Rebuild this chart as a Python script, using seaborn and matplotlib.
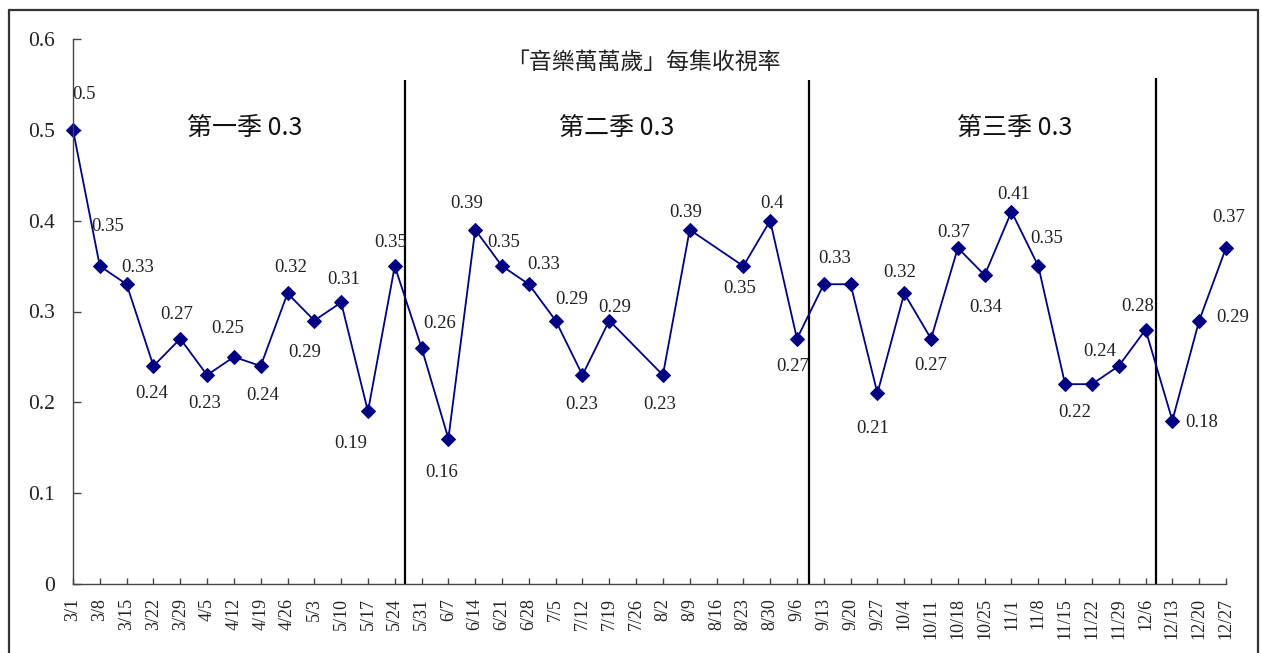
import matplotlib
matplotlib.use("Agg")
import matplotlib.pyplot as plt
from matplotlib.lines import Line2D
import seaborn as sns
import pandas as pd
import numpy as np

# ---------------- data ----------------
dates = ["3/1", "3/8", "3/15", "3/22", "3/29", "4/5", "4/12", "4/19", "4/26", "5/3",
         "5/10", "5/17", "5/24", "5/31", "6/7", "6/14", "6/21", "6/28", "7/5", "7/12",
         "7/19", "7/26", "8/2", "8/9", "8/16", "8/23", "8/30", "9/6", "9/13", "9/20",
         "9/27", "10/4", "10/11", "10/18", "10/25", "11/1", "11/8", "11/15", "11/22",
         "11/29", "12/6", "12/13", "12/20", "12/27"]
ratings = [0.5, 0.35, 0.33, 0.24, 0.27, 0.23, 0.25, 0.24, 0.32, 0.29,
           0.31, 0.19, 0.35, 0.26, 0.16, 0.39, 0.35, 0.33, 0.29, 0.23,
           0.29, np.nan, 0.23, 0.39, np.nan, 0.35, 0.4, 0.27, 0.33, 0.33,
           0.21, 0.32, 0.27, 0.37, 0.34, 0.41, 0.35, 0.22, 0.22,
           0.24, 0.28, 0.18, 0.29, 0.37]
season_names = ["第一季", "第二季", "第三季"]
season_avgs = [0.3, 0.3, 0.3]
title = "「音樂萬萬歲」每集收視率"
yticks = [0, 0.1, 0.2, 0.3, 0.4, 0.5, 0.6]

# ---------------- style (positions) ----------------
# label offsets in pixels (dx, dy-down); None = label not shown
label_offsets = [(11, -35), (8, -40), (11, -17), (-2, 27), (-4, -24), (-2, 28), (-6, -28),
                 (2, 30), (3, -26), (-10, 32), (3, -23), (-17, 32), (-4, -24), (18, -24),
                 (-7, 34), (-9, -26), (2, -24), (15, -20), (16, -21), (-1, 29), (5, -13),
                 None, (-3, 29), (-4, -17), None, (-4, 22), (2, -17), (-4, 28), (11, -26),
                 None, (-5, 35), (-5, -21), (0, 27), (-4, -15), (1, 32), (2, -17), (8, -28),
                 (10, 28), None, (-19, -14), (-8, -23), (29, 2), (34, -3), (3, -30)]
separators_x = [12.4, 27.45, 40.4]
separators_top = [0.555, 0.555, 0.557]
season_pos = [(6.41, 0.502), (20.29, 0.502), (35.13, 0.502)]

sns.set_theme(style="white")
plt.rcParams["font.family"] = ["Liberation Serif", "DejaVu Sans"]

W, H, DPI = 1261, 653, 100
fig = plt.figure(figsize=(W / DPI, H / DPI), dpi=DPI)
fig.patch.set_facecolor("white")
ax = fig.add_axes([73 / W, 1 - 584 / H, (1226 - 73) / W, (584 - 39) / H])

df = pd.DataFrame({"pos": np.arange(len(dates)), "date": dates, "rating": ratings})
df_valid = df.dropna()

sns.lineplot(data=df_valid, x="pos", y="rating", ax=ax, color="#000080",
             linewidth=1.3, marker="D", markersize=7, markeredgecolor="#000080",
             markerfacecolor="#000080", clip_on=False)

# value labels
for (i, row), off in zip(df.iterrows(), label_offsets):
    if off is None or pd.isna(row["rating"]):
        continue
    dx, dy = off
    ax.annotate(f"{row['rating']:g}", (row["pos"], row["rating"]),
                xytext=(dx * 0.72, -dy * 0.72), textcoords="offset points",
                ha="center", va="center", fontsize=13.5, color="#222222",
                family=["Liberation Serif"], annotation_clip=False)

# season separators
ax.vlines(separators_x, 0, separators_top, colors="black", linewidth=1.6, zorder=1)

# season labels
for name, avg, (sx, sy) in zip(season_names, season_avgs, season_pos):
    ax.text(sx, sy, f"{name} {avg:g}", ha="center", va="center", fontsize=18,
            color="#111111", family=["Noto Sans CJK TC", "DejaVu Sans"])

# title
fig.text(643 / W, 1 - 62 / H, title, ha="center", va="center", fontsize=16.5,
         color="#222222", family=["Noto Sans CJK TC", "DejaVu Sans"])

ax.set_xlim(0, len(dates) - 1)
ax.set_ylim(0, 0.6)
ax.set_xticks(df["pos"])
ax.set_xticklabels(df["date"], rotation=90, fontsize=13, color="#222222")
ax.set_yticks(yticks)
ax.set_yticklabels([f"{v:g}" for v in yticks], fontsize=15.5, color="#222222")
ax.set_xlabel("")
ax.set_ylabel("")
ax.tick_params(axis="x", direction="in", length=4, width=1, color="#444444", pad=10,
               bottom=True)
ax.tick_params(axis="y", direction="in", length=6, width=1, color="#444444", pad=13,
               left=True)
for s in ["top", "right"]:
    ax.spines[s].set_visible(False)
for s in ["left", "bottom"]:
    ax.spines[s].set_color("#444444")
    ax.spines[s].set_linewidth(1.0)
ax.set_facecolor("white")
ax.grid(False)

# figure frame (left, top, right)
x0, x1, yt = 9 / W, 1258 / W, 1 - 10 / H
for xs, ys in [([x0, x0], [-0.1, yt]), ([x0, x1], [yt, yt]), ([x1, x1], [yt, -0.1])]:
    fig.add_artist(Line2D(xs, ys, transform=fig.transFigure, color="#333333",
                          linewidth=1.6))

fig.savefig("out.png", dpi=DPI)
